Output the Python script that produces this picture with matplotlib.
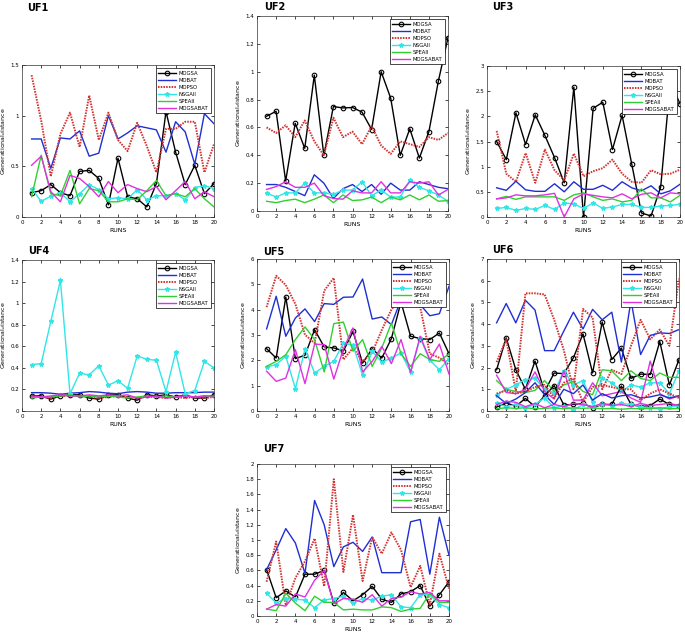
import matplotlib
matplotlib.use("Agg")
import matplotlib.pyplot as plt
from matplotlib.ticker import FuncFormatter

runs = list(range(1, 21))
algos = ["MOGSA", "MOBAT", "MOPSO", "NSGAII", "SPEAII", "MOGSABAT"]

# UF1
uf1_mogsa    = [0.24, 0.26, 0.32, 0.24, 0.21, 0.45, 0.46, 0.38, 0.12, 0.58, 0.20, 0.18, 0.10, 0.33, 1.04, 0.64, 0.32, 0.51, 0.23, 0.33]
uf1_mobat    = [0.77, 0.77, 0.48, 0.78, 0.77, 0.85, 0.60, 0.63, 1.00, 0.77, 0.83, 0.90, 0.88, 0.86, 0.64, 0.94, 0.84, 0.52, 1.02, 0.92]
uf1_mopso    = [1.40, 0.95, 0.40, 0.82, 1.03, 0.69, 1.20, 0.76, 1.03, 0.76, 0.65, 0.93, 0.70, 0.44, 0.87, 0.87, 0.94, 0.94, 0.44, 0.72]
uf1_nsgaii   = [0.28, 0.155, 0.205, 0.24, 0.15, 0.23, 0.32, 0.27, 0.18, 0.19, 0.18, 0.27, 0.17, 0.21, 0.21, 0.23, 0.17, 0.29, 0.31, 0.28]
uf1_speaii   = [0.20, 0.61, 0.23, 0.21, 0.46, 0.13, 0.28, 0.26, 0.15, 0.15, 0.18, 0.17, 0.26, 0.36, 0.21, 0.23, 0.20, 0.28, 0.18, 0.10]
uf1_mogsabat = [0.51, 0.60, 0.25, 0.15, 0.41, 0.38, 0.30, 0.20, 0.35, 0.24, 0.32, 0.28, 0.25, 0.30, 0.17, 0.26, 0.35, 0.18, 0.25, 0.20]

# UF2
uf2_mogsa    = [0.68, 0.716, 0.215, 0.63, 0.45, 0.975, 0.40, 0.75, 0.74, 0.743, 0.71, 0.585, 1.00, 0.81, 0.40, 0.59, 0.38, 0.57, 0.935, 1.245]
uf2_mobat    = [0.19, 0.19, 0.17, 0.14, 0.11, 0.26, 0.20, 0.09, 0.16, 0.19, 0.14, 0.19, 0.12, 0.20, 0.15, 0.15, 0.21, 0.19, 0.17, 0.16]
uf2_mopso    = [0.60, 0.56, 0.615, 0.53, 0.65, 0.50, 0.40, 0.67, 0.53, 0.57, 0.48, 0.61, 0.47, 0.41, 0.50, 0.48, 0.46, 0.53, 0.51, 0.56]
uf2_nsgaii   = [0.13, 0.10, 0.13, 0.13, 0.20, 0.13, 0.13, 0.12, 0.15, 0.15, 0.21, 0.11, 0.15, 0.10, 0.10, 0.22, 0.17, 0.145, 0.115, 0.07]
uf2_speaii   = [0.07, 0.06, 0.075, 0.085, 0.06, 0.085, 0.115, 0.06, 0.115, 0.075, 0.08, 0.10, 0.06, 0.10, 0.08, 0.115, 0.08, 0.115, 0.07, 0.075]
uf2_mogsabat = [0.155, 0.175, 0.21, 0.17, 0.17, 0.20, 0.11, 0.09, 0.085, 0.145, 0.13, 0.13, 0.21, 0.13, 0.13, 0.21, 0.20, 0.21, 0.115, 0.155]

# UF3
uf3_mogsa    = [1.50, 1.14, 2.07, 1.44, 2.03, 1.62, 1.18, 0.68, 2.58, 0.00, 2.16, 2.28, 1.34, 2.02, 1.05, 0.08, 0.02, 0.60, 2.68, 2.25]
uf3_mobat    = [0.58, 0.53, 0.71, 0.54, 0.51, 0.51, 0.66, 0.50, 0.70, 0.55, 0.55, 0.63, 0.53, 0.70, 0.58, 0.52, 0.62, 0.46, 0.52, 0.65]
uf3_mopso    = [1.71, 0.86, 0.70, 1.27, 0.68, 1.34, 0.93, 0.73, 1.26, 0.81, 0.91, 0.97, 1.14, 0.86, 0.70, 0.68, 0.93, 0.85, 0.86, 0.94]
uf3_nsgaii   = [0.17, 0.19, 0.13, 0.17, 0.15, 0.23, 0.15, 0.28, 0.26, 0.17, 0.28, 0.17, 0.20, 0.25, 0.25, 0.19, 0.19, 0.22, 0.23, 0.25]
uf3_speaii   = [0.36, 0.41, 0.35, 0.40, 0.40, 0.40, 0.40, 0.33, 0.44, 0.48, 0.40, 0.33, 0.36, 0.30, 0.33, 0.56, 0.38, 0.38, 0.30, 0.43]
uf3_mogsabat = [0.36, 0.38, 0.44, 0.42, 0.42, 0.44, 0.47, 0.00, 0.36, 0.46, 0.43, 0.40, 0.38, 0.46, 0.36, 0.45, 0.48, 0.38, 0.48, 0.46]

# UF4
uf4_mogsa    = [0.14, 0.14, 0.11, 0.14, 0.15, 0.15, 0.12, 0.11, 0.15, 0.15, 0.12, 0.10, 0.15, 0.14, 0.15, 0.13, 0.15, 0.12, 0.12, 0.15]
uf4_mobat    = [0.17, 0.17, 0.165, 0.155, 0.165, 0.17, 0.18, 0.175, 0.165, 0.16, 0.175, 0.18, 0.175, 0.165, 0.165, 0.17, 0.17, 0.17, 0.175, 0.175]
uf4_mopso    = [0.13, 0.13, 0.12, 0.14, 0.14, 0.14, 0.13, 0.12, 0.13, 0.14, 0.13, 0.12, 0.13, 0.13, 0.12, 0.13, 0.12, 0.13, 0.12, 0.13]
uf4_nsgaii   = [0.43, 0.44, 0.83, 1.21, 0.16, 0.35, 0.335, 0.42, 0.24, 0.28, 0.21, 0.51, 0.48, 0.47, 0.18, 0.545, 0.16, 0.19, 0.46, 0.40]
uf4_speaii   = [0.12, 0.13, 0.13, 0.14, 0.15, 0.13, 0.14, 0.13, 0.14, 0.13, 0.12, 0.13, 0.14, 0.13, 0.14, 0.13, 0.14, 0.13, 0.14, 0.13]
uf4_mogsabat = [0.14, 0.13, 0.14, 0.15, 0.14, 0.14, 0.15, 0.14, 0.15, 0.14, 0.15, 0.12, 0.13, 0.14, 0.12, 0.13, 0.14, 0.13, 0.14, 0.14]

# UF5
uf5_mogsa    = [2.46, 2.09, 4.50, 2.07, 2.20, 3.21, 2.53, 2.49, 2.37, 3.14, 1.89, 2.46, 2.09, 2.86, 4.30, 2.95, 2.86, 2.82, 3.08, 2.26]
uf5_mobat    = [3.24, 4.53, 2.95, 3.67, 4.03, 3.53, 4.24, 4.21, 4.49, 4.50, 5.21, 3.63, 3.71, 3.41, 4.40, 4.60, 4.20, 3.76, 3.84, 4.92]
uf5_mopso    = [4.10, 5.34, 4.97, 4.22, 3.01, 2.68, 4.75, 5.25, 2.03, 2.49, 1.96, 2.30, 3.20, 4.00, 4.50, 4.80, 4.10, 2.26, 2.10, 1.83]
uf5_nsgaii   = [1.74, 1.83, 2.16, 0.88, 2.45, 1.50, 1.76, 1.96, 2.68, 2.60, 1.41, 2.36, 1.93, 2.09, 2.29, 1.53, 2.88, 2.00, 1.63, 2.07]
uf5_speaii   = [1.76, 1.96, 2.22, 2.82, 3.32, 2.82, 1.54, 3.45, 3.51, 2.36, 2.82, 1.76, 2.49, 3.47, 2.26, 1.76, 2.26, 2.03, 1.96, 2.26]
uf5_mogsabat = [1.57, 1.17, 1.30, 2.42, 1.08, 2.64, 2.62, 1.26, 2.45, 3.28, 1.54, 1.96, 2.55, 1.87, 2.82, 1.53, 2.95, 2.03, 2.64, 1.46]

# UF6 (two curves per algorithm)
uf6_mogsa    = [1.90, 3.37, 1.90, 1.00, 2.30, 0.90, 1.75, 1.72, 2.45, 3.55, 1.75, 4.10, 2.37, 2.90, 1.50, 1.70, 1.68, 3.20, 1.20, 2.37]
uf6_mogsa2   = [0.18, 0.37, 0.22, 0.58, 0.20, 0.70, 1.17, 0.28, 0.30, 0.35, 0.15, 0.30, 0.30, 1.15, 0.30, 0.20, 0.25, 0.55, 0.30, 0.25]
uf6_mobat    = [4.06, 4.95, 4.06, 5.10, 4.65, 2.78, 2.78, 3.68, 4.55, 3.78, 4.68, 4.20, 4.55, 2.25, 5.10, 2.60, 3.48, 3.60, 3.57, 3.75]
uf6_mobat2   = [0.70, 0.35, 0.55, 0.85, 1.30, 0.75, 0.30, 1.00, 0.80, 1.20, 0.50, 0.80, 0.60, 0.70, 0.75, 0.60, 0.65, 0.75, 0.60, 0.70]
uf6_mopso    = [2.25, 3.30, 0.90, 5.42, 5.42, 5.37, 4.20, 2.80, 1.00, 4.70, 4.30, 1.00, 1.90, 1.70, 3.00, 4.20, 3.30, 3.75, 3.00, 6.10]
uf6_mopso2   = [0.80, 0.95, 0.80, 0.90, 1.10, 1.20, 0.60, 1.30, 1.50, 0.40, 1.10, 1.20, 1.10, 1.00, 1.00, 0.50, 0.80, 1.00, 0.80, 0.60]
uf6_nsgaii   = [0.75, 1.00, 1.20, 1.45, 1.50, 1.00, 0.85, 1.85, 1.20, 1.40, 0.40, 1.50, 1.30, 0.90, 1.20, 1.10, 1.30, 1.30, 0.80, 1.85]
uf6_nsgaii2  = [0.35, 0.20, 0.30, 0.15, 0.30, 0.60, 0.15, 0.25, 0.05, 0.30, 0.20, 0.30, 0.25, 0.35, 0.30, 0.20, 0.15, 0.10, 0.20, 0.25]
uf6_speaii   = [1.40, 1.00, 0.90, 0.85, 0.95, 1.40, 0.90, 1.20, 1.35, 0.90, 0.75, 1.90, 1.85, 1.40, 1.85, 1.50, 1.40, 1.75, 1.55, 1.55]
uf6_speaii2  = [0.10, 0.15, 0.12, 0.15, 0.10, 0.12, 0.15, 0.10, 0.15, 0.12, 0.15, 0.10, 0.12, 0.08, 0.12, 0.10, 0.12, 0.15, 0.10, 0.12]
uf6_mogsabat = [1.65, 0.85, 0.80, 1.00, 1.80, 0.90, 0.55, 1.85, 0.50, 0.50, 1.30, 0.70, 0.80, 0.90, 0.60, 0.40, 2.30, 0.80, 0.55, 0.70]
uf6_mogsabat2 = [0.30, 0.45, 0.40, 0.20, 0.35, 0.15, 0.30, 0.20, 0.35, 0.30, 0.20, 0.35, 0.25, 0.30, 0.20, 0.35, 0.25, 0.30, 0.35, 0.25]

# UF7
uf7_mogsa    = [0.61, 0.24, 0.33, 0.25, 0.55, 0.55, 0.60, 0.17, 0.31, 0.20, 0.28, 0.39, 0.22, 0.18, 0.29, 0.32, 0.40, 0.13, 0.28, 0.45]
uf7_mobat    = [0.61, 0.87, 1.15, 0.96, 0.56, 1.52, 1.20, 0.65, 0.91, 0.97, 0.85, 1.04, 0.57, 0.57, 0.57, 1.24, 1.27, 0.55, 1.30, 0.80]
uf7_mopso    = [0.45, 0.98, 0.14, 0.50, 0.72, 1.02, 0.39, 1.80, 0.58, 1.33, 0.46, 1.04, 0.82, 1.10, 0.87, 0.38, 0.66, 0.15, 0.82, 0.36]
uf7_nsgaii   = [0.30, 0.17, 0.23, 0.22, 0.21, 0.11, 0.21, 0.23, 0.26, 0.17, 0.23, 0.21, 0.26, 0.28, 0.12, 0.11, 0.28, 0.28, 0.15, 0.11]
uf7_speaii   = [0.09, 0.07, 0.30, 0.17, 0.07, 0.26, 0.18, 0.18, 0.08, 0.09, 0.08, 0.08, 0.12, 0.11, 0.06, 0.09, 0.10, 0.30, 0.18, 0.18]
uf7_mogsabat = [0.09, 0.15, 0.13, 0.29, 0.25, 0.47, 0.60, 0.16, 0.23, 0.22, 0.18, 0.28, 0.13, 0.23, 0.25, 0.32, 0.29, 0.31, 0.20, 0.20]

styles = {
    "MOGSA":    dict(color="black", marker="o", mfc="none", ms=3.3, mew=0.8, lw=1.0),
    "MOBAT":    dict(color="#1f2fd2", lw=1.0),
    "MOPSO":    dict(color="#d23232", lw=1.4, ls=(0, (0.8, 0.6))),
    "NSGAII":   dict(color="#30e6e6", marker="*", ms=3.2, lw=1.0),
    "SPEAII":   dict(color="#30d030", lw=1.0),
    "MOGSABAT": dict(color="#e030e0", lw=1.0),
}

W, H = 685, 634
fig = plt.figure(figsize=(W / 100, H / 100), dpi=100)


def px_rect(left, top, right, bottom):
    return [left / W, 1 - bottom / H, (right - left) / W, (bottom - top) / H]


panels = [
    ("UF1", px_rect(22, 65, 214, 217), (27, 3), 1.5, 0.5,
     [uf1_mogsa, uf1_mobat, uf1_mopso, uf1_nsgaii, uf1_speaii, uf1_mogsabat], None),
    ("UF2", px_rect(257, 16, 448, 211), (264, 2), 1.4, 0.2,
     [uf2_mogsa, uf2_mobat, uf2_mopso, uf2_nsgaii, uf2_speaii, uf2_mogsabat], None),
    ("UF3", px_rect(487, 66, 680, 217), (492, 2), 3, 0.5,
     [uf3_mogsa, uf3_mobat, uf3_mopso, uf3_nsgaii, uf3_speaii, uf3_mogsabat], None),
    ("UF4", px_rect(22, 260, 214, 411), (28, 246), 1.4, 0.2,
     [uf4_mogsa, uf4_mobat, uf4_mopso, uf4_nsgaii, uf4_speaii, uf4_mogsabat], None),
    ("UF5", px_rect(257, 259, 449, 411), (263, 247), 6, 1,
     [uf5_mogsa, uf5_mobat, uf5_mopso, uf5_nsgaii, uf5_speaii, uf5_mogsabat], None),
    ("UF6", px_rect(487, 259, 679, 411), (492, 245), 7, 1,
     [uf6_mogsa, uf6_mobat, uf6_mopso, uf6_nsgaii, uf6_speaii, uf6_mogsabat],
     [uf6_mogsa2, uf6_mobat2, uf6_mopso2, uf6_nsgaii2, uf6_speaii2, uf6_mogsabat2]),
    ("UF7", px_rect(257, 464, 449, 616), (263, 444), 2, 0.2,
     [uf7_mogsa, uf7_mobat, uf7_mopso, uf7_nsgaii, uf7_speaii, uf7_mogsabat], None),
]

fmt = FuncFormatter(lambda v, pos: "%g" % round(v, 3))

for title, rect, tpos, ytop, ystep, series, extra in panels:
    ax = fig.add_axes(rect)
    for name, vals in zip(algos, series):
        ax.plot(runs, vals, label=name, **styles[name])
    if extra is not None:
        for name, vals in zip(algos, extra):
            ax.plot(runs, vals, **styles[name])
    ax.set_xlim(0, 20)
    ax.set_ylim(0, ytop)
    ax.set_xticks(range(0, 21, 2))
    n = int(round(ytop / ystep))
    ax.set_yticks([i * ystep for i in range(n + 1)])
    ax.yaxis.set_major_formatter(fmt)
    ax.tick_params(direction="in", length=2, width=0.5, labelsize=4,
                   top=True, right=True, pad=2)
    for s in ax.spines.values():
        s.set_linewidth(0.5)
        s.set_color("#333333")
    ax.set_xlabel("RUNS", fontsize=4.5, labelpad=2)
    ax.set_ylabel("Generational$_d$istance", fontsize=4.5, labelpad=2)
    leg = ax.legend(loc="upper right", fontsize=3.8, handlelength=3.4,
                    handletextpad=0.5, labelspacing=0.4, borderpad=0.45,
                    borderaxespad=0.6, fancybox=False, framealpha=1)
    leg.get_frame().set_edgecolor("black")
    leg.get_frame().set_linewidth(0.5)
    fig.text(tpos[0] / W, 1 - tpos[1] / H, title, fontsize=7, fontweight="bold",
             va="top", ha="left")

fig.savefig("out.png", dpi=100)
